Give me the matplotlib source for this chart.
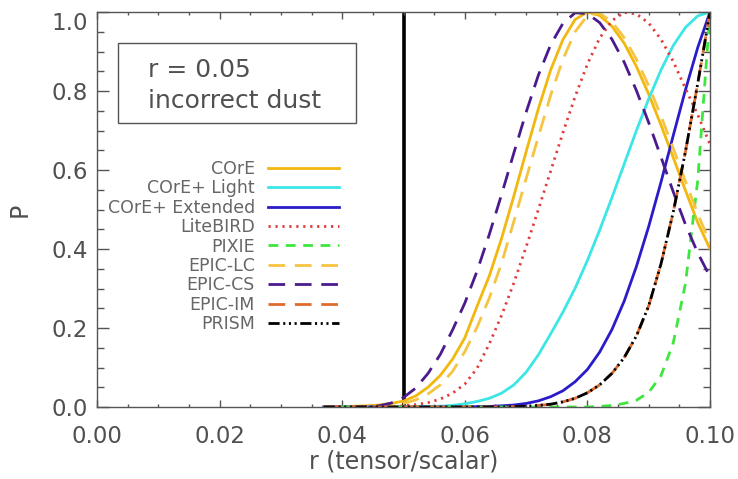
import matplotlib
matplotlib.use('Agg')
import matplotlib.pyplot as plt
from matplotlib.ticker import MultipleLocator, FormatStrFormatter
from matplotlib.patches import Rectangle

# ---------------- data ----------------
r = [0.037, 0.038, 0.040, 0.042, 0.044, 0.046, 0.048, 0.050, 0.052, 0.054,
     0.056, 0.058, 0.060, 0.062, 0.064, 0.066, 0.068, 0.070, 0.072, 0.074,
     0.076, 0.078, 0.080, 0.082, 0.084, 0.086, 0.088, 0.090, 0.092, 0.094,
     0.096, 0.098, 0.100]

core = [0.0, 0.0, 0.001, 0.002, 0.003, 0.005, 0.009, 0.015, 0.028, 0.050,
        0.080, 0.121, 0.175, 0.255, 0.332, 0.427, 0.534, 0.646, 0.755, 0.853,
        0.930, 0.981, 1.000, 0.991, 0.964, 0.921, 0.862, 0.792, 0.714, 0.632,
        0.548, 0.467, 0.400]

core_light = [0.0, 0.0, 0.0, 0.0, 0.0, 0.0, 0.0, 0.0, 0.0, 0.001,
              0.002, 0.004, 0.008, 0.014, 0.022, 0.035, 0.056, 0.088, 0.132, 0.185,
              0.240, 0.301, 0.371, 0.448, 0.530, 0.615, 0.700, 0.780, 0.853, 0.915,
              0.961, 0.990, 1.000]

core_ext = [0.0, 0.0, 0.0, 0.0, 0.0, 0.0, 0.0, 0.0, 0.0, 0.0,
            0.0, 0.0, 0.0, 0.001, 0.0015, 0.003, 0.005, 0.009, 0.0155, 0.026,
            0.041, 0.064, 0.095, 0.139, 0.196, 0.268, 0.356, 0.457, 0.569, 0.687,
            0.803, 0.910, 1.000]

litebird = [0.0, 0.0, 0.0, 0.0, 0.0, 0.0, 0.001, 0.003, 0.006, 0.011,
            0.020, 0.035, 0.058, 0.098, 0.160, 0.232, 0.314, 0.405, 0.500, 0.597,
            0.694, 0.786, 0.868, 0.934, 0.978, 0.999, 0.995, 0.972, 0.931, 0.875,
            0.806, 0.740, 0.665]

pixie = [0.0, 0.0, 0.0, 0.0, 0.0, 0.0, 0.0, 0.0, 0.0, 0.0,
         0.0, 0.0, 0.0, 0.0, 0.0, 0.0, 0.0, 0.0, 0.0, 0.0,
         0.0, 0.0, 0.0, 0.0015, 0.004, 0.009, 0.017, 0.037, 0.079, 0.162,
         0.313, 0.574, 1.000]

epic_lc = [0.0, 0.0, 0.0, 0.001, 0.001, 0.002, 0.004, 0.009, 0.018, 0.033,
           0.056, 0.090, 0.140, 0.202, 0.276, 0.364, 0.470, 0.578, 0.684, 0.789,
           0.880, 0.950, 0.991, 0.997, 0.975, 0.935, 0.880, 0.813, 0.737, 0.655,
           0.571, 0.489, 0.415]

epic_cs = [0.0, 0.0, 0.0, 0.0, 0.001, 0.003, 0.010, 0.024, 0.048, 0.085,
           0.133, 0.195, 0.263, 0.344, 0.437, 0.538, 0.643, 0.746, 0.840, 0.917,
           0.971, 0.998, 0.996, 0.973, 0.931, 0.873, 0.801, 0.720, 0.633, 0.545,
           0.462, 0.390, 0.330]

epic_im = [0.0, 0.0, 0.0, 0.0, 0.0, 0.0, 0.0, 0.0, 0.0, 0.0,
           0.0, 0.0, 0.0, 0.0, 0.0, 0.0, 0.001, 0.002, 0.004, 0.007,
           0.013, 0.022, 0.036, 0.056, 0.085, 0.125, 0.180, 0.256, 0.362, 0.493,
           0.647, 0.819, 1.000]

prism = [0.0, 0.0, 0.0, 0.0, 0.0, 0.0, 0.0, 0.0, 0.0, 0.0,
         0.0, 0.0, 0.0, 0.0, 0.0, 0.0, 0.001, 0.002, 0.004, 0.007,
         0.013, 0.022, 0.036, 0.056, 0.085, 0.125, 0.180, 0.256, 0.362, 0.493,
         0.647, 0.819, 1.000]

labels = ["COrE", "COrE+ Light", "COrE+ Extended", "LiteBIRD", "PIXIE",
          "EPIC-LC", "EPIC-CS", "EPIC-IM", "PRISM"]
values = [core, core_light, core_ext, litebird, pixie, epic_lc, epic_cs,
          epic_im, prism]
r_true = 0.05
x_ticks = [0.00, 0.02, 0.04, 0.06, 0.08, 0.10]
y_ticks = [0.0, 0.2, 0.4, 0.6, 0.8, 1.0]

# ---------------- styles ----------------
colors = ["#F2B80F", "#3DE6E6", "#2A1CC8", "#E23A3A", "#3FE63F",
          "#F5C441", "#4B1A8C", "#E06A2E", "#000000"]
styles = ["-", "-", "-",
          (0, (1.6, 3.4)),
          (0, (7, 5.5)),
          (0, (12, 7)),
          (0, (12, 7)),
          (0, (12, 7)),
          (0, (8, 2.6, 1.5, 2.6, 1.5, 2.6, 1.5, 2.6))]

plt.rcParams['lines.scale_dashes'] = False
plt.rcParams['font.family'] = ['DejaVu Sans']
gray = "#555555"

fig = plt.figure(figsize=(7.38, 4.79), dpi=100)
ax = fig.add_axes([97 / 738, 72 / 479, 613 / 738, 395 / 479])

for lab, v, c, ls in zip(labels, values, colors, styles):
    ax.plot(r, v, color=c, linestyle=ls, lw=2.0, label=lab)

ax.axvline(r_true, color="black", lw=2.6, zorder=1)

ax.set_xlim(0, 0.1)
ax.set_ylim(0, 1.0)
ax.set_xticks(x_ticks)
ax.set_yticks(y_ticks)
ax.xaxis.set_minor_locator(MultipleLocator(0.005))
ax.yaxis.set_minor_locator(MultipleLocator(0.05))
ax.xaxis.set_major_formatter(FormatStrFormatter('%.2f'))
ax.yaxis.set_major_formatter(FormatStrFormatter('%.1f'))

for sp in ax.spines.values():
    sp.set_color(gray)
    sp.set_linewidth(1.0)

ax.tick_params(axis='both', which='both', direction='in', top=True, right=True,
               colors=gray, labelcolor="#505050", width=1.0)
ax.tick_params(axis='x', which='major', length=5, pad=13, labelsize=16.5)
ax.tick_params(axis='x', which='minor', length=2.5)
ax.tick_params(axis='y', which='major', length=8.6, pad=6.5, labelsize=16.5)
ax.tick_params(axis='y', which='minor', length=5)

fig.canvas.draw()
ylabs = ax.get_yticklabels()
ylabs[-1].set_va('top')

ax.set_xlabel("r (tensor/scalar)", fontsize=17, color="#505050", va='center')
ax.xaxis.set_label_coords(0.5, (407 - 462) / 395)
ax.set_ylabel("P", fontsize=17, color="#505050", va='center')
ax.yaxis.set_label_coords((20 - 97) / 613, (407 - 210) / 395)

# annotation box
ax.add_patch(Rectangle(((118 - 97) / 613, (407 - 123) / 395),
                       (356 - 118) / 613, (123 - 43) / 395,
                       transform=ax.transAxes, fill=False, edgecolor=gray, lw=1.0))
ax.text((148 - 97) / 613, (407 - 77) / 395, "r = 0.05", transform=ax.transAxes,
        fontsize=18, color="#505050", va='baseline', ha='left')
ax.text((148 - 97) / 613, (407 - 108) / 395, "incorrect dust", transform=ax.transAxes,
        fontsize=18, color="#505050", va='baseline', ha='left')

ax.legend(loc='upper right', bbox_to_anchor=((339 - 97) / 613, (407 - 160) / 395),
          frameon=False, markerfirst=False, handlelength=4.1, handletextpad=0.75,
          labelspacing=0.08, borderpad=0, borderaxespad=0, fontsize=12.5,
          labelcolor="#666666")

fig.savefig("out.png", dpi=100)
